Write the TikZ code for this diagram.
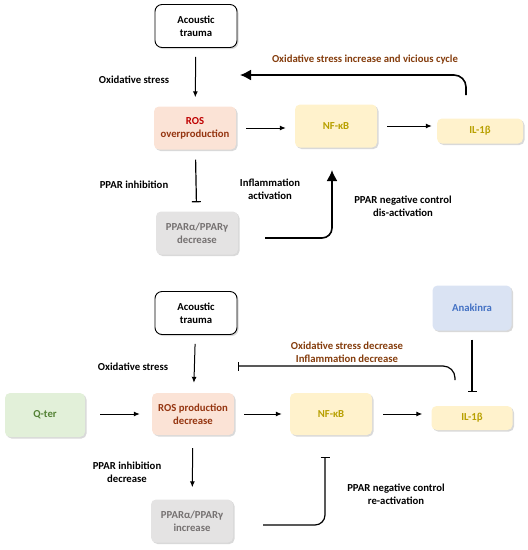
\documentclass[tikz,border=0pt]{standalone}
\usepackage{fontspec}
\setmainfont{Carlito}
\usetikzlibrary{arrows.meta,positioning,shadows,calc}
\definecolor{rosfill}{HTML}{FBE3D6}
\definecolor{rostext}{HTML}{953510}
\definecolor{nffill}{HTML}{FFF2CC}
\definecolor{nftext}{HTML}{B8A000}
\definecolor{pparfill}{HTML}{E4E3E3}
\definecolor{ppartext}{HTML}{757171}
\definecolor{anafill}{HTML}{DAE3F3}
\definecolor{anatext}{HTML}{4472C4}
\definecolor{qfill}{HTML}{E2F0D9}
\definecolor{qtext}{HTML}{548235}
\definecolor{loop}{HTML}{843C0C}

\tikzset{
  box/.style={rounded corners=5pt, align=center, font=\fontsize{10.7}{13}\selectfont\bfseries,
              minimum width=82pt, minimum height=43pt,
              drop shadow={shadow xshift=1.5pt,shadow yshift=-1.5pt,opacity=0.3}},
  trauma/.style={box, draw, line width=0.9pt, fill=white, rounded corners=7pt},
  rosbox/.style={box, fill=rosfill, text=rostext},
  nfbox/.style={box, fill=nffill, text=nftext},
  ilbox/.style={box, fill=nffill, text=nftext, minimum height=25pt},
  pparbox/.style={box, fill=pparfill, text=ppartext},
  lbl/.style={align=center, font=\fontsize{10.7}{13}\selectfont\bfseries},
  arr/.style={-{Latex[length=6pt,width=5pt]}, line width=1pt},
  bigarr/.style={-{Latex[length=11pt,width=11pt]}, line width=1.6pt},
  inh/.style={-{Bar[width=9pt,line width=1.2pt]}, line width=1.2pt}
}

\begin{document}
\begin{tikzpicture}[x=1pt,y=-1pt]
  \useasboundingbox (0,0) rectangle (528,550);

  % ---------- Upper scheme ----------
  \node[trauma] (trauma1) at (196,26) {Acoustic\\trauma};
  \node[rosbox] (ros1) at (195,128) {{\color{red!75!black}ROS}\\overproduction};
  \node[nfbox] (nf1) at (336,126) {NF-κB};
  \node[ilbox, minimum width=86pt] (il1) at (480,131) {IL-1β};
  \node[pparbox] (ppar1) at (197,233) {PPARα/PPARγ\\decrease};

  \draw[arr, shorten <=9pt, shorten >=9pt] (trauma1) -- (ros1);
  \draw[arr, shorten <=10pt, shorten >=9pt] (ros1.east) -- (ros1.east -| nf1.west);
  \draw[arr, shorten <=10pt, shorten >=5pt] (nf1.east) -- (nf1.east -| il1.west);
  \draw[inh, shorten <=10pt, shorten >=9pt] (ros1) -- (ppar1);

  % feedback loop
  \coordinate (fb1) at (466,95);
  \coordinate (fb1end) at (240,75);
  \draw[bigarr, rounded corners=12pt] (fb1) |- (fb1end);

  % PPAR -> NF-kB
  \coordinate (up1) at (332,170);
  \draw[bigarr, rounded corners=10pt, shorten <=27pt] (ppar1.east |- 0,238) -| (up1);

  \node[lbl] (os1) at (134,80) {Oxidative stress};
  \node[lbl, text=loop] (vc1) at (365,60) {Oxidative stress increase and vicious cycle};
  \node[lbl] (pi1) at (134,185) {PPAR inhibition};
  \node[lbl] (ia1) at (270,189) {Inflammation\\activation};
  \node[lbl] (nc1) at (403,206) {PPAR negative control\\dis-activation};

  % ---------- Lower scheme ----------
  \node[trauma] (trauma2) at (196,313) {Acoustic\\trauma};
  \node[box, fill=anafill, text=anatext, minimum width=79pt, minimum height=45pt] (ana) at (472,308) {Anakinra};
  \node[box, fill=qfill, text=qtext, minimum width=80pt, minimum height=44pt] (qter) at (45,415) {Q-ter};
  \node[rosbox, minimum height=42pt] (ros2) at (193,414) {ROS production\\decrease};
  \node[nfbox, minimum height=42pt] (nf2) at (331,414) {NF-κB};
  \node[ilbox, minimum width=81pt, minimum height=24pt] (il2) at (472,418) {IL-1β};
  \node[pparbox] (ppar2) at (192,521) {PPARα/PPARγ\\increase};

  \draw[arr, shorten <=9pt, shorten >=10pt] (trauma2) -- (ros2);
  \draw[arr, shorten <=15pt, shorten >=12pt] (qter.east |- ros2) -- (ros2.west);
  \draw[arr, shorten <=10pt, shorten >=8pt] (ros2.east) -- (ros2.east -| nf2.west);
  \draw[arr, shorten <=11pt, shorten >=9pt] (nf2.east) -- (nf2.east -| il2.west);
  \draw[arr, shorten <=13pt, shorten >=12pt] (ros2) -- (ppar2);
  \draw[inh, shorten <=9pt, shorten >=14pt] (ana) -- (il2);

  % feedback inhibition
  \coordinate (fb2) at (455,380);
  \coordinate (fb2end) at (238,366);
  \draw[inh, rounded corners=12pt] (fb2) |- (fb2end);

  % PPAR -| NF-kB
  \coordinate (up2) at (325,457);
  \draw[inh, rounded corners=10pt, shorten <=30pt] (ppar2.east |- 0,525) -| (up2);

  \node[lbl] (os2) at (133,367) {Oxidative stress};
  \node[lbl, text=loop] (dec2) at (347,352) {Oxidative stress decrease\\Inflammation decrease};
  \node[lbl] (pi2) at (127,472) {PPAR inhibition\\decrease};
  \node[lbl] (nc2) at (396,494) {PPAR negative control\\re-activation};
\end{tikzpicture}
\end{document}
